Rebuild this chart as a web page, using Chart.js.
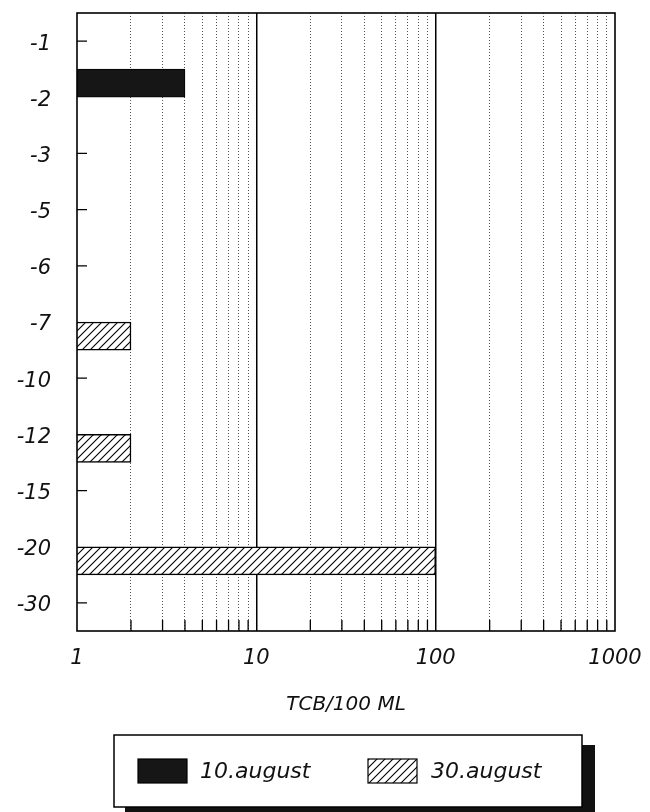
<!DOCTYPE html>
<html>
<head>
<meta charset="utf-8">
<script src="https://cdn.jsdelivr.net/npm/chart.js@4"></script>
<style>
body { margin: 0; background: #fff; }
</style>
</head>
<body>
<canvas id="chart" width="650" height="812"></canvas>
<script>
// depth categories (m) and TCB counts per 100 ml
var depths = ['-1', '-2', '-3', '-5', '-6', '-7', '-10', '-12', '-15', '-20', '-30'];
var aug10 = [null, 4, null, null, null, null, null, null, null, null, null];
var aug30 = [null, null, null, null, null, 2, null, 2, null, 100, null];
var seriesNames = ['10.august', '30.august'];
var xTickLabels = [1, 10, 100, 1000];
var xTitle = 'TCB/100 ML';

var fontFamily = '"DejaVu Sans", sans-serif';

function hatch() {
    var c = document.createElement('canvas');
    c.width = 8; c.height = 8;
    var g = c.getContext('2d');
    g.fillStyle = '#fff';
    g.fillRect(0, 0, 8, 8);
    g.strokeStyle = '#000';
    g.lineWidth = 1.1;
    g.beginPath();
    g.moveTo(-1, 9); g.lineTo(9, -1);
    g.moveTo(-1, 1); g.lineTo(1, -1);
    g.moveTo(7, 9); g.lineTo(9, 7);
    g.stroke();
    return g.createPattern(c, 'repeat');
}

function isMajor(v) {
    return v === 10 || v === 100;
}

// only 1..9 x 10^n get a grid line (drop 15, 150 etc.)
function isWhole(v) {
    var d = Math.pow(10, Math.floor(Math.log10(v) + 1e-9));
    var s = v / d;
    return Math.abs(s - Math.round(s)) < 1e-6;
}

var framePlugin = {
    id: 'frame',
    beforeDatasetsDraw: function (chart) {
        var ctx = chart.ctx, a = chart.chartArea, y = chart.scales.y;
        ctx.save();
        ctx.strokeStyle = '#000';
        ctx.lineWidth = 1.3;
        ctx.beginPath();
        for (var i = 0; i < depths.length; i++) {
            if (aug10[i] != null || aug30[i] != null) continue;
            var py = y.getPixelForValue(i);
            ctx.moveTo(a.left, py);
            ctx.lineTo(a.left + 10, py);
        }
        ctx.stroke();
        ctx.restore();
    },
    afterDatasetsDraw: function (chart) {
        var ctx = chart.ctx, a = chart.chartArea, x = chart.scales.x;
        ctx.save();
        ctx.strokeStyle = '#000';
        ctx.lineWidth = 1.3;
        ctx.beginPath();
        x.ticks.forEach(function (t) {
            if (isMajor(t.value) || t.value === 1 || t.value === 1000 || !isWhole(t.value)) return;
            var px = x.getPixelForValue(t.value);
            ctx.moveTo(px, a.bottom);
            ctx.lineTo(px, a.bottom - 11);
        });
        ctx.stroke();
        ctx.lineWidth = 1.6;
        ctx.strokeRect(a.left, a.top, a.right - a.left, a.bottom - a.top);
        ctx.restore();
    },
    afterDraw: function (chart) {
        var ctx = chart.ctx;
        ctx.save();
        // legend box with drop shadow
        ctx.fillStyle = '#111';
        ctx.fillRect(125, 745, 470, 80);
        ctx.fillStyle = '#fff';
        ctx.fillRect(114, 735, 468, 72);
        ctx.strokeStyle = '#000';
        ctx.lineWidth = 1.5;
        ctx.strokeRect(114, 735, 468, 72);

        var items = [{ x: 138, tx: 200 }, { x: 368, tx: 431 }];
        ctx.font = 'italic 22px ' + fontFamily;
        ctx.textBaseline = 'middle';
        ctx.textAlign = 'left';
        for (var i = 0; i < items.length; i++) {
            var ds = chart.data.datasets[i];
            ctx.fillStyle = ds.backgroundColor;
            ctx.fillRect(items[i].x, 759, 49, 24);
            ctx.lineWidth = 1.2;
            ctx.strokeStyle = '#000';
            ctx.strokeRect(items[i].x, 759, 49, 24);
            ctx.fillStyle = '#111';
            ctx.fillText(ds.label, items[i].tx, 772);
        }
        ctx.restore();
    }
};

const ctx = document.getElementById('chart').getContext('2d');

const myChart = new Chart(ctx, {
    type: 'bar',
    data: {
        labels: depths,
        datasets: [{
            label: seriesNames[0],
            data: aug10,
            backgroundColor: '#161616',
            borderColor: '#000',
            borderWidth: 1
        }, {
            label: seriesNames[1],
            data: aug30,
            backgroundColor: hatch(),
            borderColor: '#000',
            borderWidth: 1.5
        }]
    },
    plugins: [framePlugin],
    options: {
        indexAxis: 'y',
        responsive: false,
        animation: false,
        categoryPercentage: 1,
        barPercentage: 1,
        layout: { padding: { left: 0, top: 13, right: 35, bottom: 79 } },
        plugins: {
            legend: { display: false },
            tooltip: { enabled: false }
        },
        scales: {
            x: {
                type: 'logarithmic',
                min: 1,
                max: 1000,
                afterFit: function (s) {
                    s.height = 102;
                    s.paddingLeft = 0;
                    s.paddingRight = 0;
                },
                grid: {
                    drawTicks: false,
                    color: function (c) {
                        var v = c.tick && c.tick.value;
                        if (isMajor(v)) return '#000';
                        if (v === 1 || v === 1000 || !isWhole(v)) return 'rgba(0,0,0,0)';
                        return '#555';
                    },
                    lineWidth: function (c) {
                        var v = c.tick && c.tick.value;
                        return isMajor(v) ? 1.5 : 1;
                    }
                },
                border: {
                    display: false,
                    dash: function (c) {
                        var v = c.tick && c.tick.value;
                        return isMajor(v) ? [] : [1, 2];
                    }
                },
                ticks: {
                    autoSkip: false,
                    maxRotation: 0,
                    padding: 15,
                    color: '#111',
                    font: { family: fontFamily, size: 21, style: 'italic' },
                    callback: function (v) {
                        return xTickLabels.indexOf(v) >= 0 ? String(v) : '';
                    }
                },
                title: {
                    display: true,
                    text: xTitle,
                    color: '#111',
                    padding: { top: 0, bottom: 16 },
                    font: { family: fontFamily, size: 20, style: 'italic' }
                }
            },
            y: {
                afterFit: function (s) {
                    s.width = 77;
                    s.paddingTop = 0;
                    s.paddingBottom = 0;
                },
                grid: { display: false, drawTicks: false },
                border: { display: false },
                ticks: {
                    padding: 26,
                    labelOffset: 3,
                    color: '#111',
                    font: { family: fontFamily, size: 21, style: 'italic' }
                }
            }
        }
    }
});
</script>
</body>
</html>
